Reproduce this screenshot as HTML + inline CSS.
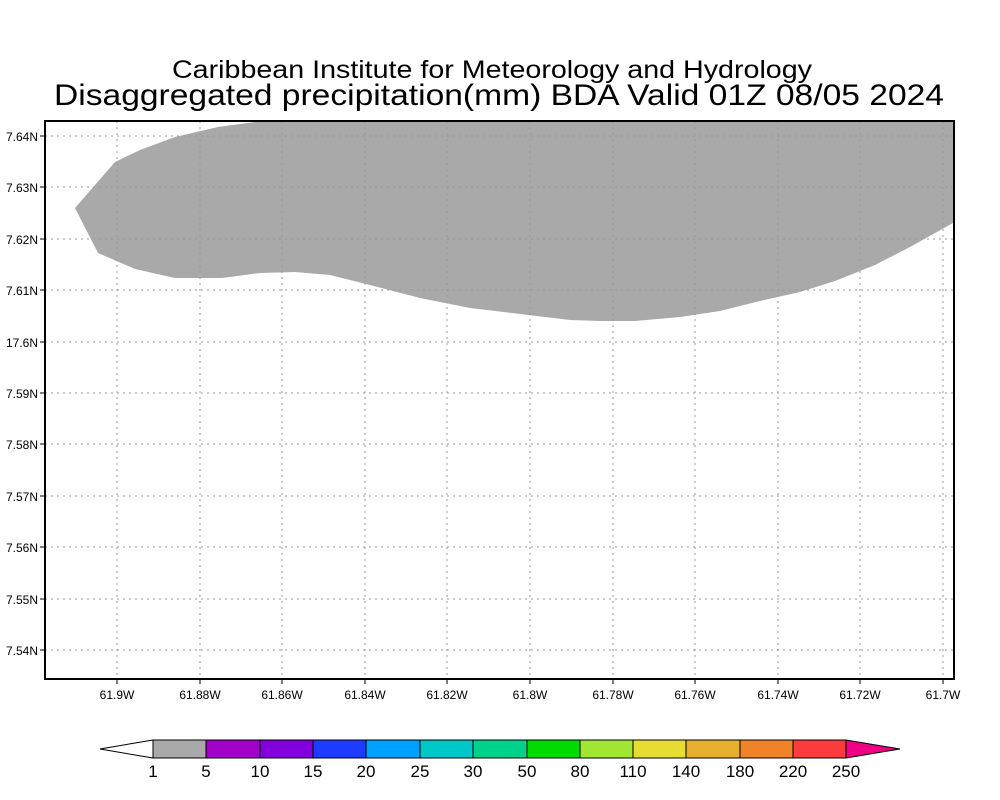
<!DOCTYPE html>
<html><head><meta charset="utf-8"><style>html,body{margin:0;padding:0;background:#fff}svg{display:block}</style></head>
<body>
<svg width="1000" height="800" viewBox="0 0 1000 800" xmlns="http://www.w3.org/2000/svg" font-family="Liberation Sans, sans-serif">
<rect width="1000" height="800" fill="#fff"/>
<text x="492" y="78" font-size="25" text-anchor="middle" textLength="640" lengthAdjust="spacingAndGlyphs">Caribbean Institute for Meteorology and Hydrology</text>
<text x="499" y="105" font-size="30" text-anchor="middle" textLength="890" lengthAdjust="spacingAndGlyphs">Disaggregated precipitation(mm) BDA Valid 01Z 08/05 2024</text>
<polygon fill="#a9a9a9" points="75,208 98,253 135,269 175,278 222,278 260,273 295,272 330,275 370,285 420,298 470,308 520,314 570,320 600,321 635,321 680,317 720,311 760,301 800,292 835,281 875,265 910,247 953,223 953,121 262,121 218,127 175,137 140,150 115,162"/>
<g stroke="#999" stroke-width="1" stroke-dasharray="2,4">
<line x1="117" y1="121" x2="117" y2="679"/><line x1="200" y1="121" x2="200" y2="679"/><line x1="282" y1="121" x2="282" y2="679"/><line x1="365" y1="121" x2="365" y2="679"/><line x1="447" y1="121" x2="447" y2="679"/><line x1="530" y1="121" x2="530" y2="679"/><line x1="613" y1="121" x2="613" y2="679"/><line x1="695" y1="121" x2="695" y2="679"/><line x1="778" y1="121" x2="778" y2="679"/><line x1="860" y1="121" x2="860" y2="679"/><line x1="943" y1="121" x2="943" y2="679"/>
<line x1="45" y1="136" x2="954" y2="136"/><line x1="45" y1="187" x2="954" y2="187"/><line x1="45" y1="239" x2="954" y2="239"/><line x1="45" y1="290" x2="954" y2="290"/><line x1="45" y1="342" x2="954" y2="342"/><line x1="45" y1="393" x2="954" y2="393"/><line x1="45" y1="444" x2="954" y2="444"/><line x1="45" y1="496" x2="954" y2="496"/><line x1="45" y1="547" x2="954" y2="547"/><line x1="45" y1="599" x2="954" y2="599"/><line x1="45" y1="650" x2="954" y2="650"/>
</g>
<rect x="45" y="121" width="909" height="558" fill="none" stroke="#000" stroke-width="2"/>
<g stroke="#000" stroke-width="1">
<line x1="40" y1="136" x2="45" y2="136"/><line x1="40" y1="187" x2="45" y2="187"/><line x1="40" y1="239" x2="45" y2="239"/><line x1="40" y1="290" x2="45" y2="290"/><line x1="40" y1="342" x2="45" y2="342"/><line x1="40" y1="393" x2="45" y2="393"/><line x1="40" y1="444" x2="45" y2="444"/><line x1="40" y1="496" x2="45" y2="496"/><line x1="40" y1="547" x2="45" y2="547"/><line x1="40" y1="599" x2="45" y2="599"/><line x1="40" y1="650" x2="45" y2="650"/>
<line x1="117" y1="679" x2="117" y2="684"/><line x1="200" y1="679" x2="200" y2="684"/><line x1="282" y1="679" x2="282" y2="684"/><line x1="365" y1="679" x2="365" y2="684"/><line x1="447" y1="679" x2="447" y2="684"/><line x1="530" y1="679" x2="530" y2="684"/><line x1="613" y1="679" x2="613" y2="684"/><line x1="695" y1="679" x2="695" y2="684"/><line x1="778" y1="679" x2="778" y2="684"/><line x1="860" y1="679" x2="860" y2="684"/><line x1="943" y1="679" x2="943" y2="684"/>
</g>
<g font-size="12" text-anchor="end">
<text x="38" y="141">7.64N</text><text x="38" y="192">7.63N</text><text x="38" y="244">7.62N</text><text x="38" y="295">7.61N</text><text x="38" y="347">17.6N</text><text x="38" y="398">7.59N</text><text x="38" y="449">7.58N</text><text x="38" y="501">7.57N</text><text x="38" y="552">7.56N</text><text x="38" y="604">7.55N</text><text x="38" y="655">7.54N</text>
</g>
<g font-size="12" text-anchor="middle">
<text x="117" y="699">61.9W</text><text x="200" y="699">61.88W</text><text x="282" y="699">61.86W</text><text x="365" y="699">61.84W</text><text x="447" y="699">61.82W</text><text x="530" y="699">61.8W</text><text x="613" y="699">61.78W</text><text x="695" y="699">61.76W</text><text x="778" y="699">61.74W</text><text x="860" y="699">61.72W</text><text x="943" y="699">61.7W</text>
</g>
<g stroke="#000" stroke-width="1">
<polygon points="153,740 100,749 153,758" fill="#fff"/>
<rect x="153" y="740" width="53" height="18" fill="#a9a9a9"/>
<rect x="206" y="740" width="54" height="18" fill="#a000c8"/>
<rect x="260" y="740" width="53" height="18" fill="#8200dc"/>
<rect x="313" y="740" width="53" height="18" fill="#1e3cff"/>
<rect x="366" y="740" width="54" height="18" fill="#00a0ff"/>
<rect x="420" y="740" width="53" height="18" fill="#00c8c8"/>
<rect x="473" y="740" width="54" height="18" fill="#00d28c"/>
<rect x="527" y="740" width="53" height="18" fill="#00dc00"/>
<rect x="580" y="740" width="53" height="18" fill="#a0e632"/>
<rect x="633" y="740" width="53" height="18" fill="#e6dc32"/>
<rect x="686" y="740" width="54" height="18" fill="#e6af2d"/>
<rect x="740" y="740" width="53" height="18" fill="#f08228"/>
<rect x="793" y="740" width="53" height="18" fill="#fa3c3c"/>
<polygon points="846,740 900,749 846,758" fill="#f00082"/>
</g>
<g font-size="17" text-anchor="middle">
<text x="153" y="777">1</text><text x="206" y="777">5</text><text x="260" y="777">10</text><text x="313" y="777">15</text><text x="366" y="777">20</text><text x="420" y="777">25</text><text x="473" y="777">30</text><text x="527" y="777">50</text><text x="580" y="777">80</text><text x="633" y="777">110</text><text x="686" y="777">140</text><text x="740" y="777">180</text><text x="793" y="777">220</text><text x="846" y="777">250</text>
</g>
</svg>
</body></html>
